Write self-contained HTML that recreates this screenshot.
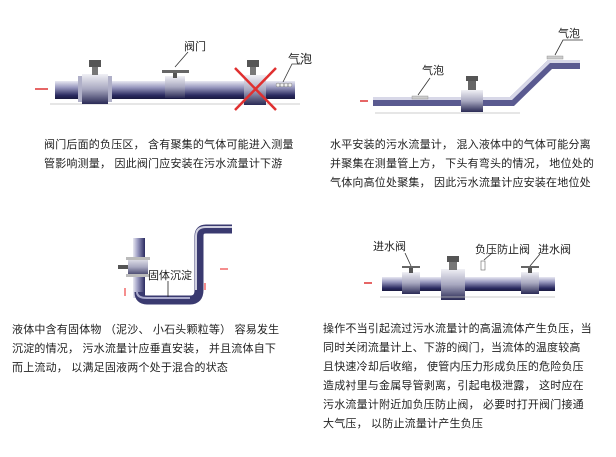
<!DOCTYPE html>
<html><head><meta charset="utf-8"><style>
body{margin:0;width:616px;height:457px;background:#fff;position:relative;overflow:hidden;font-family:"Liberation Sans","Noto Sans CJK SC",sans-serif;color:#222}
.t{position:absolute;font-size:11px;line-height:19px;white-space:nowrap;letter-spacing:0.2px}
.l{position:absolute;font-size:11px;white-space:nowrap;color:#222}
svg{position:absolute;left:0;top:0}
</style></head><body>
<svg width="616" height="457" viewBox="0 0 616 457">
<defs>
<linearGradient id="pg" x1="0" y1="0" x2="0" y2="1">
<stop offset="0" stop-color="#e8e8f2"/><stop offset="0.35" stop-color="#9a9ac0"/><stop offset="0.8" stop-color="#2a2a60"/><stop offset="1" stop-color="#1a1a40"/></linearGradient>
<linearGradient id="pv" x1="0" y1="0" x2="1" y2="0">
<stop offset="0" stop-color="#e8e8f2"/><stop offset="0.4" stop-color="#9a9ac0"/><stop offset="1" stop-color="#2a2a60"/></linearGradient>
<linearGradient id="mg" x1="0" y1="0" x2="0" y2="1">
<stop offset="0" stop-color="#f0f0f5"/><stop offset="0.5" stop-color="#a8a8c0"/><stop offset="1" stop-color="#2a2a55"/></linearGradient>
</defs>
<g fill="none" stroke="#999" stroke-width="0.6"><line x1="50" y1="104" x2="300" y2="104"/></g>
<!-- Panel 1 -->
<rect x="55" y="81" width="240" height="18" fill="url(#pg)"/>
<line x1="35" y1="89" x2="48" y2="89" stroke="#d33" stroke-width="1.5"/>
<rect x="82" y="74" width="26" height="30" fill="url(#mg)"/>
<rect x="78" y="76" width="4" height="26" fill="#b0b0c8"/><rect x="108" y="76" width="4" height="26" fill="#b0b0c8"/>
<rect x="92" y="66" width="6" height="9" fill="#777"/><rect x="89" y="60" width="12" height="7" fill="#555"/>
<rect x="165" y="76" width="20" height="22" fill="url(#mg)"/>
<rect x="173" y="71" width="4" height="7" fill="#555"/><rect x="162" y="70" width="27" height="3" fill="#666"/>
<line x1="175" y1="67" x2="188" y2="52" stroke="#333" stroke-width="0.8"/>
<rect x="244" y="75" width="22" height="30" fill="url(#mg)"/>
<rect x="250" y="66" width="6" height="9" fill="#777"/><rect x="247" y="60" width="12" height="7" fill="#555"/>
<line x1="235" y1="68" x2="276" y2="110" stroke="#e03030" stroke-width="2.5"/>
<line x1="276" y1="68" x2="235" y2="110" stroke="#e03030" stroke-width="2.5"/>
<g fill="#eee" stroke="#777" stroke-width="0.5"><circle cx="278" cy="85" r="2"/><circle cx="282" cy="85" r="2"/><circle cx="286" cy="85" r="2"/><circle cx="290" cy="85" r="2"/></g>
<polyline points="283,82 292,64 302,64" fill="none" stroke="#333" stroke-width="0.8"/>
<!-- Panel 2 -->
<polygon points="373,97 510,97 548,60 580,60 580,69 552,69 514,106 373,106" fill="#5a5a90"/>
<polygon points="373,97 510,97 548,60 580,60 580,63 550,63 512,100 373,100" fill="#d8d8e8"/>
<line x1="360" y1="101" x2="368" y2="101" stroke="#d33" stroke-width="1.5"/>
<rect x="461" y="90" width="22" height="22" fill="url(#mg)"/>
<rect x="468" y="80" width="8" height="10" fill="#666"/><rect x="466" y="76" width="12" height="5" fill="#555"/>
<rect x="412" y="96" width="16" height="3" fill="#ccc" stroke="#888" stroke-width="0.4"/>
<rect x="547" y="56" width="16" height="3" fill="#ccc" stroke="#888" stroke-width="0.4"/>
<polyline points="418,95 430,78" fill="none" stroke="#333" stroke-width="0.8"/>
<polyline points="555,55 563,40 583,40" fill="none" stroke="#333" stroke-width="0.8"/>
<line x1="375" y1="113" x2="520" y2="113" stroke="#bbb" stroke-width="0.8"/>
<!-- Panel 3 -->
<rect x="133" y="238" width="12" height="60" fill="url(#pv)"/>
<path d="M139 292 Q139 300 147 300 L190 300 Q199 300 199 290 L199 236 Q199 229 206 229 L232 229" fill="none" stroke="#3a3a70" stroke-width="9"/>
<path d="M137 292 Q137 298 147 298 L190 298" fill="none" stroke="#aaaacc" stroke-width="2"/>
<path d="M196 290 L196 236 Q196 227 206 227 L232 227" fill="none" stroke="#d0d0e0" stroke-width="2"/>
<rect x="128" y="257" width="20" height="20" fill="url(#mg)"/>
<rect x="126" y="257" width="24" height="3" fill="#bbb"/><rect x="126" y="274" width="24" height="3" fill="#bbb"/>
<rect x="118" y="265" width="10" height="4" fill="#555"/>
<line x1="168" y1="281" x2="168" y2="297" stroke="#222" stroke-width="0.8"/>
<line x1="125" y1="288" x2="125" y2="296" stroke="#e44" stroke-width="1.2"/>
<line x1="205" y1="283" x2="205" y2="290" stroke="#e44" stroke-width="1.2"/>
<line x1="220" y1="269" x2="228" y2="269" stroke="#e44" stroke-width="1.2"/>
<!-- Panel 4 -->
<rect x="382" y="277" width="173" height="14" fill="url(#pg)"/>
<line x1="364" y1="283" x2="372" y2="283" stroke="#d33" stroke-width="1.5"/>
<rect x="402" y="272" width="18" height="22" fill="url(#mg)"/>
<rect x="409" y="268" width="4" height="5" fill="#555"/><rect x="402" y="266" width="18" height="2" fill="#666"/>
<line x1="411" y1="266" x2="405" y2="253" stroke="#333" stroke-width="0.8"/>
<rect x="441" y="269" width="24" height="31" fill="url(#mg)"/>
<rect x="449" y="262" width="8" height="8" fill="#777"/><rect x="447" y="256" width="12" height="6" fill="#555"/>
<rect x="481" y="261" width="4" height="9" fill="#fff" stroke="#666" stroke-width="0.6"/>
<line x1="484" y1="260" x2="492" y2="253" stroke="#333" stroke-width="0.8"/>
<rect x="521" y="272" width="18" height="22" fill="url(#mg)"/>
<rect x="528" y="268" width="4" height="5" fill="#555"/><rect x="521" y="266" width="18" height="2" fill="#666"/>
<line x1="530" y1="266" x2="540" y2="254" stroke="#333" stroke-width="0.8"/>
<line x1="380" y1="297" x2="555" y2="297" stroke="#bbb" stroke-width="0.8"/>
</svg>
<div class="l" style="left:184px;top:38px">阀门</div>
<div class="l" style="left:288px;top:50px;font-size:12px">气泡</div>
<div class="l" style="left:422px;top:62px">气泡</div>
<div class="l" style="left:558px;top:25px">气泡</div>
<div class="l" style="left:148px;top:267px">固体沉淀</div>
<div class="l" style="left:373px;top:238px">进水阀</div>
<div class="l" style="left:475px;top:241px">负压防止阀</div>
<div class="l" style="left:538px;top:241px">进水阀</div>
<div class="t" style="left:44px;top:136px">阀门后面的负压区， 含有聚集的气体可能进入测量<br>管影响测量， 因此阀门应安装在污水流量计下游</div>
<div class="t" style="left:330px;top:136px">水平安装的污水流量计， 混入液体中的气体可能分离<br>并聚集在测量管上方， 下头有弯头的情况， 地位处的<br>气体向高位处聚集， 因此污水流量计应安装在地位处</div>
<div class="t" style="left:12px;top:321px">液体中含有固体物 （泥沙、 小石头颗粒等） 容易发生<br>沉淀的情况， 污水流量计应垂直安装， 并且流体自下<br>而上流动， 以满足固液两个处于混合的状态</div>
<div class="t" style="left:323px;top:320px">操作不当引起流过污水流量计的高温流体产生负压，当<br>同时关闭流量计上、下游的阀门，当流体的温度较高<br>且快速冷却后收缩， 使管内压力形成负压的危险负压<br>造成衬里与金属导管剥离，引起电极泄露， 这时应在<br>污水流量计附近加负压防止阀， 必要时打开阀门接通<br>大气压， 以防止流量计产生负压</div>
</body></html>
